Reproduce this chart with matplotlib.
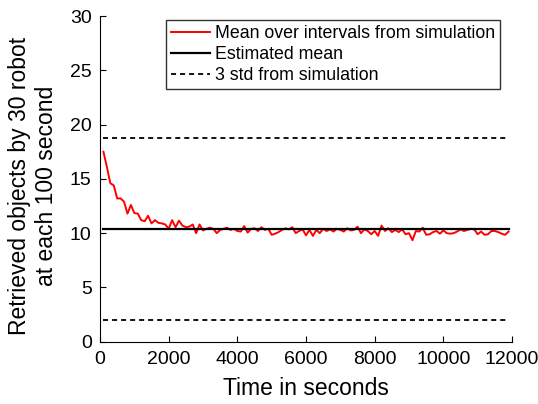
import matplotlib
matplotlib.use("Agg")
import matplotlib.pyplot as plt
import numpy as np

plt.rcParams['font.family'] = ['Liberation Sans', 'DejaVu Sans']

time_s = list(range(100, 12000, 100))
sim_mean = [
    17.5, 16.1, 14.6, 14.4, 13.2, 13.2, 12.9, 11.8, 12.6, 11.85,
    11.8, 11.2, 11.1, 11.6, 10.9, 11.2, 10.95, 10.9, 10.8, 10.4,
    11.2, 10.55, 11.15, 10.7, 10.55, 10.6, 10.8, 10.0, 10.8,
    10.25, 10.4, 10.5, 10.4, 10.0, 10.3, 10.4, 10.5, 10.3, 10.4,
    10.2, 10.15, 10.65, 10.05, 10.4, 10.45, 10.2, 10.55, 10.3, 10.4,
    9.85, 9.95, 10.1, 10.3, 10.45, 10.35, 10.55, 10.0, 10.2, 10.35,
    9.8, 10.3, 9.75, 10.3, 10.0, 10.4, 10.2, 10.35, 10.15, 10.4,
    10.3, 10.15, 10.45, 10.25, 10.3, 10.6, 10.0, 10.35, 10.2, 9.9,
    10.2, 9.75, 10.7, 10.2, 10.45, 10.1, 10.3, 10.1, 10.35, 9.9,
    10.0, 9.35, 10.2, 10.15, 10.5, 9.85, 9.9, 10.1, 10.2, 9.95,
    10.25, 10.0, 9.95, 10.0, 10.15, 10.35, 10.2, 10.3, 10.4, 10.35,
    9.9, 10.15, 9.85, 9.9, 10.2, 10.2, 10.1, 9.95, 9.85, 10.15,
]
estimated_mean = 10.34
std_upper = 18.77
std_lower = 1.97
x_range = [100, 11900]

fig = plt.figure(figsize=(5.38, 4.04), dpi=100)
ax = fig.add_axes([0.1859, 0.1542, 0.7658, 0.806])

dash = (0, (2.8, 2.2))
ax.plot(time_s, sim_mean, color='red', lw=1.4, label='Mean over intervals from simulation')
ax.plot(x_range, [estimated_mean, estimated_mean], color='black', lw=1.6, label='Estimated mean')
ax.plot(x_range, [std_upper, std_upper], color='black', lw=1.3, ls=dash, label='3 std from simulation')
ax.plot(x_range, [std_lower, std_lower], color='black', lw=1.3, ls=dash)

ax.set_xlim(0, 12000)
ax.set_ylim(0, 30)
ax.set_xticks(range(0, 12001, 2000))
ax.set_yticks(range(0, 31, 5))
ax.spines['top'].set_visible(False)
ax.spines['right'].set_visible(False)
ax.tick_params(direction='in', labelsize=14, length=4)
ax.tick_params(axis='x', pad=7)
ax.tick_params(axis='y', pad=6)
ax.set_xlabel('Time in seconds', fontsize=16.5, labelpad=6)
ax.set_ylabel('Retrieved objects by 30 robot\nat each 100 second', fontsize=16.5, linespacing=1.2)
ax.yaxis.set_label_coords(-0.102, 0.478)

leg = ax.legend(loc='upper right', bbox_to_anchor=(0.971, 0.988), fontsize=12.8, frameon=True,
                fancybox=False, edgecolor='black', borderpad=0.3, labelspacing=0.22,
                handlelength=2.2, handletextpad=0.25, borderaxespad=0)
leg.get_frame().set_linewidth(1.0)

fig.savefig('out.png', dpi=100)
